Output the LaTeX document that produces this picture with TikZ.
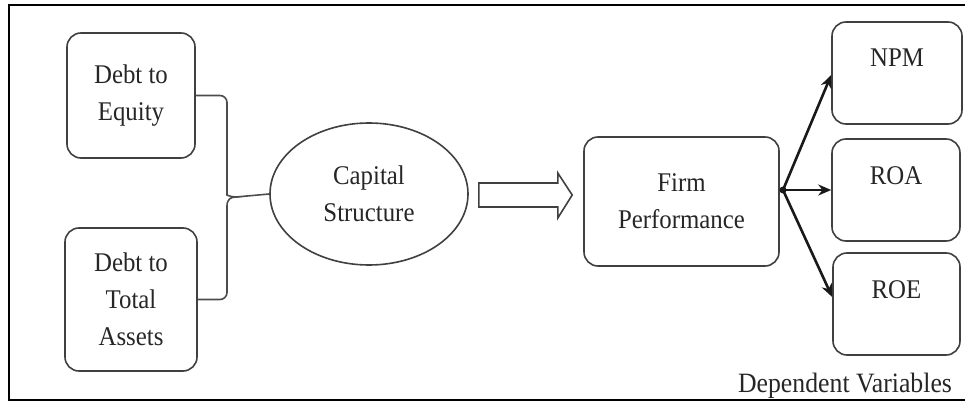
\documentclass[tikz,border=0pt]{standalone}
\usepackage{fontspec}
\setmainfont[FakeStretch=0.92]{Liberation Serif}
\usetikzlibrary{shapes.geometric,calc,arrows.meta}
\begin{document}
\begin{tikzpicture}[x=1pt,y=-1pt,
  box/.style={draw=black!75,line width=1.6pt,rounded corners=14pt,inner sep=0pt,
    align=center,font=\fontsize{27}{37}\selectfont,text=black!85},
  oval/.style={ellipse,draw=black!75,line width=1.6pt,inner sep=0pt,
    align=center,font=\fontsize{27}{37}\selectfont,text=black!85},
  lbl/.style={inner sep=0pt,font=\fontsize{27}{37}\selectfont,text=black!85},
  brace/.style={draw=black!70,line width=1.6pt},
  outarrow/.style={draw=black!90,line width=2.6pt,-{Stealth[length=13pt,width=11pt]}},
  frame/.style={draw=black,line width=1.8pt}
]
\useasboundingbox (0,0) rectangle (965,403);
% frame
\draw[frame] (965,5) -- (9,5) -- (9,400) -- (965,400);

% left boxes
\node[box,minimum width=128pt,minimum height=125pt] (de) at (131,95.5) {Debt to\\Equity};
\node[box,minimum width=132pt,minimum height=143pt] (dta) at (131,299.5) {Debt to\\Total\\Assets};

% ellipse
\node[oval,minimum width=198pt,minimum height=142pt] (cs) at (369,194) {Capital\\Structure};

% brace
\coordinate (tip) at (236,197);
\draw[brace,rounded corners=7pt] (de.east) -| ($(tip)+(-9,-9)$) [sharp corners]
  .. controls ($(tip)+(-9,-2)$) and ($(tip)+(-5,0)$) .. (tip)
  .. controls ($(tip)+(-5,0)$) and ($(tip)+(-9,2)$) .. ($(tip)+(-9,9)$)
  [rounded corners=7pt] |- (dta.east);
\draw[brace] (tip) -- (cs.west);

% firm performance
\node[box,minimum width=195pt,minimum height=129pt] (fp) at (681.5,201.5) {Firm\\Performance};

% hollow arrow
\draw[draw=black!75,line width=1.6pt,fill=white,line join=miter]
  ($(cs.east)+(10,-11)$) -- ($(cs.east)+(89,-11)$) -- ($(cs.east)+(89,-21)$)
  -- ($(fp.west)+(-11,-6.5)$) -- ($(cs.east)+(89,24)$) -- ($(cs.east)+(89,13)$)
  -- ($(cs.east)+(10,13)$) -- cycle;

% dependent variable boxes
\node[box,minimum width=130pt,minimum height=102pt] (npm) at (897,73) {};
\node[box,minimum width=128pt,minimum height=102pt] (roa) at (896,190) {};
\node[box,minimum width=127pt,minimum height=102pt] (roe) at (896.5,304) {};
\node[lbl] (npmt) at (897,58) {NPM};
\node[lbl] (roat) at (896,176) {ROA};
\node[lbl] (roet) at (896.5,290) {ROE};

% arrows
\coordinate (hub) at (783,190);
\fill[black!90] (hub) circle (3.5pt);
\draw[outarrow] (hub) -- ($(npm.west)+(0,2)$);
\draw[outarrow] (hub) -- (roa.west);
\draw[outarrow] (hub) -- ($(roe.west)+(0,-7)$);

\node[inner sep=0pt,font=\fontsize{28}{30}\selectfont,text=black!85] (dv) at (845,386) {Dependent Variables};
\end{tikzpicture}
\end{document}
